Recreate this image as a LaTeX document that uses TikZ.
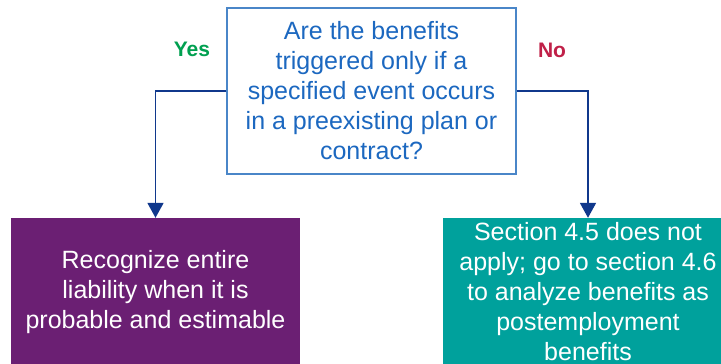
\documentclass[tikz,border=0pt]{standalone}
\usepackage{fontspec}
\setmainfont{Liberation Sans}
\usetikzlibrary{arrows.meta}

\definecolor{qblue}{RGB}{28,104,192}
\definecolor{qframe}{RGB}{74,134,200}
\definecolor{flow}{RGB}{16,56,140}
\definecolor{yesgreen}{RGB}{0,160,80}
\definecolor{nored}{RGB}{192,32,72}
\definecolor{resultpurple}{RGB}{107,31,115}
\definecolor{resultteal}{RGB}{0,161,156}

\begin{document}
\begin{tikzpicture}[x=1pt,y=-1pt,
    question/.style={draw=qframe,line width=1.2pt,fill=white,rectangle,align=center,text=qblue,
        minimum width=289pt,minimum height=166pt,inner sep=0pt,font=\fontsize{25}{30}\selectfont},
    outcome/.style={rectangle,align=center,text=white,minimum height=148pt,inner sep=0pt,
        font=\fontsize{25}{30}\selectfont},
    answer/.style={font=\bfseries\fontsize{21}{24}\selectfont},
    flowline/.style={draw=flow,line width=1.8pt,-{Triangle[width=16pt,length=15pt]}}]
    \clip (0,0) rectangle (721,364);
    \fill[white] (0,0) rectangle (721,364);

    \node[question] (q) at (371.5,91) {Are the benefits\\triggered only if a\\specified event occurs\\in a preexisting plan or\\contract?};

    \node[outcome,fill=resultpurple,minimum width=289pt] (yesbox) at (155.5,292) {Recognize entire\\liability when it is\\probable and estimable};
    \node[outcome,fill=resultteal,minimum width=290pt] (nobox) at (588,292) {Section 4.5 does not\\apply; go to section 4.6\\to analyze benefits as\\postemployment\\benefits};

    \node[answer,text=yesgreen] (yes) at (192,49) {Yes};
    \node[answer,text=nored] (no) at (552,50) {No};

    \draw[flowline] (q.west) -| (yesbox.north);
    \draw[flowline] (q.east) -| (nobox.north);
\end{tikzpicture}
\end{document}
